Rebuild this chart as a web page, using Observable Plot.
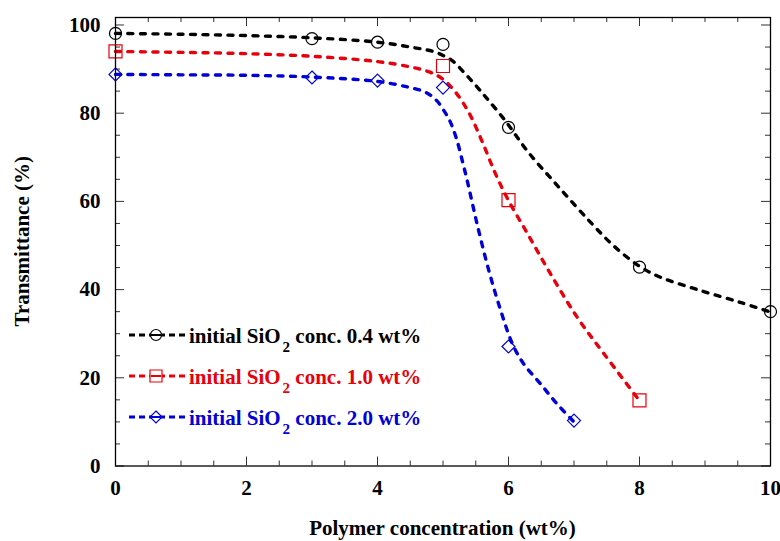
<!DOCTYPE html>
<html><head><meta charset="utf-8">
<script src="https://cdn.jsdelivr.net/npm/d3@7"></script>
<script src="https://cdn.jsdelivr.net/npm/@observablehq/plot@0.6"></script>
<style>
html,body{margin:0;padding:0;background:#fff;}
#chart{position:relative;width:780px;height:541px;}
#chart svg{display:block;}
</style></head><body><div id="chart"></div>
<script>
// ---- series ----
const seriesLabels = ["0.4", "1.0", "2.0"];
const seriesColors = ["#000000", "#e8000b", "#0000d8"];

// ---- measured points ----
const x04 = [0, 3, 4, 5, 6, 8, 10];
const y04 = [98.1, 96.9, 96.1, 95.6, 76.8, 45.1, 35.0];
const x10 = [0, 5, 6, 8];
const y10 = [94.0, 90.7, 60.3, 14.9];
const x20 = [0, 3, 4, 5, 6, 7];
const y20 = [88.8, 88.1, 87.4, 85.8, 27.1, 10.3];

// ---- fitted (dashed) curves ----
const cx04 = [0, 1, 2, 3, 4, 4.5, 4.85, 5.0, 5.15, 5.33, 5.5, 5.65, 5.95, 6.3, 6.77, 7.25, 7.6, 8.0, 8.32, 8.93, 9.54, 10];
const cy04 = [98.1, 97.9, 97.6, 97.1, 96.1, 95.0, 94.0, 93.1, 91.8, 89.1, 86.3, 83.7, 78.3, 71.2, 63.2, 55.3, 50.0, 45.3, 42.8, 39.8, 37.1, 34.9];
const cx10 = [0, 1, 2, 3, 4, 4.5, 4.8, 5.0, 5.2, 5.4, 5.6, 5.8, 6.0, 6.29, 6.64, 7.05, 7.46, 8.0];
const cy10 = [94.0, 93.8, 93.5, 92.9, 91.7, 90.5, 89.3, 87.7, 84.6, 80.0, 73.5, 66.3, 60.2, 52.7, 43.6, 33.7, 25.4, 14.8];
const cx20 = [0, 1, 2, 3, 4, 4.47, 4.74, 4.9, 5.0, 5.1, 5.2, 5.3, 5.37, 5.52, 5.70, 5.88, 6.06, 6.23, 6.49, 6.74, 7.0];
const cy20 = [88.8, 88.7, 88.6, 88.2, 87.2, 85.9, 84.7, 82.9, 80.9, 78.4, 74.5, 68.9, 64.7, 54.9, 44.3, 35.3, 27.7, 23.2, 18.6, 14.1, 10.0];

// ---- ticks ----
const xTickLabels = [0, 2, 4, 6, 8, 10];
const xMinorTicks = [0.5, 1, 1.5, 2.5, 3, 3.5, 4.5, 5, 5.5, 6.5, 7, 7.5, 8.5, 9, 9.5];
const yTickLabels = [0, 20, 40, 60, 80, 100];
const yMinorTicks = [5, 10, 15, 25, 30, 35, 45, 50, 55, 65, 70, 75, 85, 90, 95];

const xTitle = "Polymer concentration (wt%)";
const yTitle = "Transmittance (%)";

// ---- symbols ----
const symSquare = {draw(ctx, size) { const h = Math.sqrt(size / Math.PI); ctx.rect(-h, -h, 2 * h, 2 * h); }};
const symDiamond = {draw(ctx, size) { const h = Math.sqrt(size / Math.PI); ctx.moveTo(0, -h); ctx.lineTo(h, 0); ctx.lineTo(0, h); ctx.lineTo(-h, 0); ctx.closePath(); }};
const seriesSymbols = [d3.symbolCircle, symSquare, symDiamond];
const seriesR = [6, 6.5, 6.5];

const toRows = (xs, ys) => xs.map((x, i) => ({x, y: ys[i]}));
const pointSets = [toRows(x04, y04), toRows(x10, y10), toRows(x20, y20)];
const curveSets = [toRows(cx04, cy04), toRows(cx10, cy10), toRows(cx20, cy20)];

const W = 780, H = 541, mL = 115, mR = 10, mT = 17, mB = 75.5;
const fw = W - mL - mR, fh = H - mT - mB;
const majorLen = 9, minorLen = 5, tickColor = "#333";

const chart = Plot.plot({
  width: W, height: H,
  marginLeft: mL, marginRight: mR, marginTop: mT, marginBottom: mB,
  style: {fontFamily: "'Liberation Serif', 'Times New Roman', serif", fontSize: "21px", fontWeight: "bold", background: "white", overflow: "visible"},
  x: {domain: [0, 10]},
  y: {domain: [0, 101.7]},
  marks: [
    Plot.axisX({ticks: xTickLabels, tickSize: 0, tickPadding: 14, label: null, tickFormat: d => String(d)}),
    Plot.axisY({ticks: yTickLabels, tickSize: 0, tickPadding: 15, label: null, tickFormat: d => String(d)}),
    // inward ticks: bottom / top
    Plot.tickX(xTickLabels, {x: d => d, insetTop: fh - majorLen, stroke: tickColor}),
    Plot.tickX(xMinorTicks, {x: d => d, insetTop: fh - minorLen, stroke: tickColor}),
    Plot.tickX(xTickLabels, {x: d => d, insetBottom: fh - majorLen, stroke: tickColor}),
    Plot.tickX(xMinorTicks, {x: d => d, insetBottom: fh - minorLen, stroke: tickColor}),
    // inward ticks: left / right
    Plot.tickY(yTickLabels, {y: d => d, insetRight: fw - majorLen, stroke: tickColor}),
    Plot.tickY(yMinorTicks, {y: d => d, insetRight: fw - minorLen, stroke: tickColor}),
    Plot.tickY(yTickLabels, {y: d => d, insetLeft: fw - majorLen, stroke: tickColor}),
    Plot.tickY(yMinorTicks, {y: d => d, insetLeft: fw - minorLen, stroke: tickColor}),
    ...curveSets.map((rows, i) => Plot.line(rows, {
      x: "x", y: "y", stroke: seriesColors[i], strokeWidth: 3.4,
      strokeDasharray: "5,7.5", strokeLinecap: "round", curve: "catmull-rom"
    })),
    ...pointSets.map((rows, i) => Plot.dot(rows, {
      x: "x", y: "y", r: seriesR[i], symbol: seriesSymbols[i],
      stroke: seriesColors[i], strokeWidth: 1.2, fill: "none"
    })),
    Plot.frame({stroke: "black", strokeWidth: 1.3})
  ]
});
document.getElementById("chart").appendChild(chart);

// ---- titles & legend ----
const svg = d3.select(chart);
const ff = "'Liberation Serif', 'Times New Roman', serif";
svg.append("text")
  .attr("x", mL + fw / 2).attr("y", 535)
  .attr("text-anchor", "middle").style("font-size", "21px").style("font-weight", "bold").style("font-family", ff)
  .attr("fill", "black").text(xTitle);
svg.append("text")
  .attr("transform", `translate(29,${mT + fh / 2}) rotate(-90)`)
  .attr("text-anchor", "middle").style("font-size", "21px").style("font-weight", "bold").style("font-family", ff)
  .attr("fill", "black").text(yTitle);

const legendBaselines = [343, 384, 425];
const lg = svg.append("g").attr("text-anchor", "start");
seriesLabels.forEach((lab, i) => {
  const by = legendBaselines[i], ly = by - 8;
  const g = lg.append("g");
  g.append("line").attr("x1", 129).attr("x2", 188).attr("y1", ly).attr("y2", ly)
    .attr("stroke", seriesColors[i]).attr("stroke-width", 3.2).attr("stroke-dasharray", "6,4");
  g.append("path").attr("transform", `translate(156,${ly})`)
    .attr("d", d3.symbol(seriesSymbols[i], Math.PI * (seriesR[i] - 0.5) ** 2)())
    .attr("fill", "white").attr("stroke", seriesColors[i]).attr("stroke-width", 1.2);
  g.append("line").attr("x1", 151).attr("x2", 161).attr("y1", ly).attr("y2", ly)
    .attr("stroke", seriesColors[i]).attr("stroke-width", 2);
  const t = g.append("text").attr("x", 189).attr("y", by).attr("fill", seriesColors[i])
    .attr("text-anchor", "start")
    .style("font-size", "21px").style("font-weight", "bold").style("font-family", ff);
  t.append("tspan").text("initial SiO");
  t.append("tspan").attr("dx", 2).attr("dy", 9).style("font-size", "15px").text("2");
  t.append("tspan").attr("dy", -9).text(" conc. " + lab + " wt%");
});
</script>
</body></html>
